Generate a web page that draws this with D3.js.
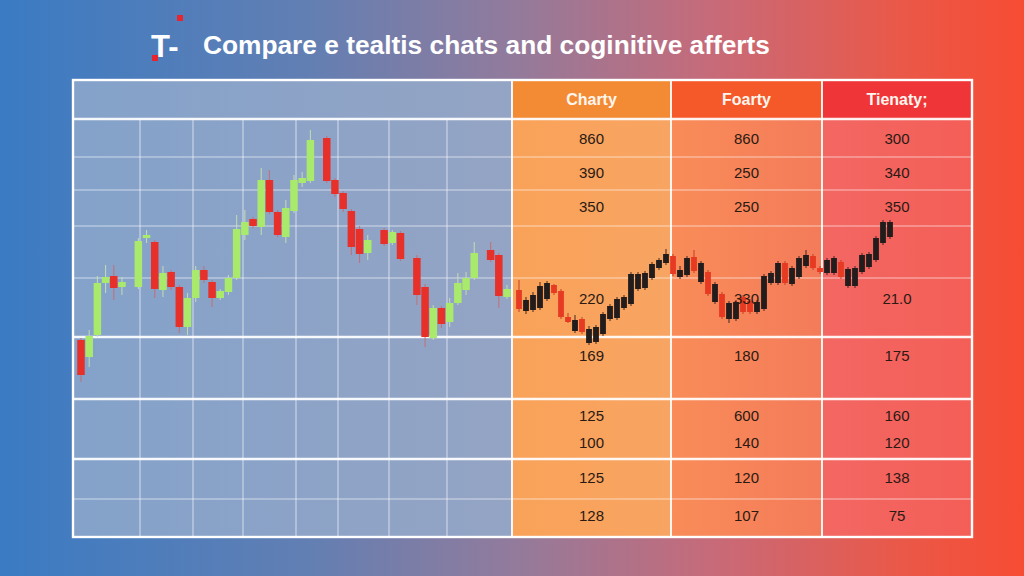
<!DOCTYPE html>
<html><head><meta charset="utf-8">
<script src="https://cdn.jsdelivr.net/npm/d3@7"></script>
<style>html,body{margin:0;padding:0;overflow:hidden;width:1024px;height:576px;background:#fff}</style>
</head><body><svg id="c" width="1024" height="576"></svg>
<script>
// ---------- DATA ----------
const titleText = "Compare e tealtis chats and coginitive afferts";
const logoText = "T-";
const columnNames = ["Charty", "Foarty", "Tienaty;"];
const chartyValues = ["860", "390", "350", "220", "169", "125", "100", "125", "128"];
const foartyValues = ["860", "250", "250", "330", "180", "600", "140", "120", "107"];
const tienatyValues = ["300", "340", "350", "21.0", "175", "160", "120", "138", "75"];

// left (green / red) series: trading day index and OHLC
const leftDay   = [0,1,2,3,4,5,7,8,9,10,11,12,13,14,15,16,17,18,19,20,21,22,23,24,25,26,27,28,30,31,32,33,34,35,37,38,39,41,42,43,44,45,46,47,48,50,51,52];
const leftOpen  = [60,43,65,117,124,113,113,162,158,110,128,113,73,102,130,118,102,108,122,165,181,173,220,188,163,189,217,219,262,220,207,189,171,147,170,157,167,142,113,62,92,78,97,110,122,150,145,103];
const leftHigh  = [62,70,124,135,135,123,162,170,160,134,130,115,107,134,134,120,111,125,185,190,183,232,230,190,200,225,228,270,264,222,209,191,174,165,172,170,169,145,116,95,94,102,127,128,158,158,147,115];
const leftLow   = [18,33,63,107,100,105,111,157,102,103,110,67,65,98,117,93,100,105,120,160,172,165,186,163,157,187,213,217,217,203,188,145,137,140,154,155,139,95,53,60,72,73,95,105,120,138,92,101];
const leftClose = [25,64,117,123,112,118,159,165,111,127,113,73,102,130,120,102,109,122,171,178,174,220,188,165,192,220,222,260,219,206,191,153,146,160,156,168,141,105,63,92,76,97,117,122,147,140,104,111];

// right (black / red) series OHLC
const rightOpen  = [110,89,90,92,101,115,109,83,69,81,57,58,66,81,82,92,96,111,112,122,132,137,144,123,125,143,118,128,98,106,81,81,103,99,88,91,117,117,137,116,123,134,144,132,127,127,138,114,114,128,133,140,157,163];
const rightHigh  = [120,103,108,118,119,116,111,87,85,83,74,75,88,96,103,105,128,128,129,138,142,151,146,134,144,150,139,130,118,108,99,100,105,101,100,126,129,139,139,134,144,150,146,134,142,144,140,133,134,147,148,164,180,180];
const rightLow   = [88,86,88,90,99,105,81,77,67,66,55,56,64,79,80,90,94,109,110,120,130,135,124,121,123,127,116,104,96,81,77,79,86,86,86,89,115,115,115,114,121,132,130,126,125,125,121,112,112,126,131,138,155,161];
const rightClose = [91,100,105,114,117,107,83,78,80,68,71,73,86,94,101,103,126,126,127,136,140,146,126,130,142,129,137,106,116,83,97,98,88,88,98,124,127,137,117,132,142,145,132,128,140,142,123,131,132,145,146,162,178,178];

// ---------- LAYOUT ----------
const W = 1024, H = 576;
const tbl = {x0: 73, x1: 972, y0: 80, y1: 537, split: 512};
const colEdges = [512, 671, 822, 972];
const headerBottom = 119;
const thinRows = [157, 190, 226, 278, 499];
const thickRows = [119, 337, 399, 459];
const leftGridX = [140, 193, 243, 296, 338, 389, 447];
const valueRowY = [140, 174, 208, 300, 357, 417, 444, 479, 517];

const svg = d3.select("#c");
const defs = svg.append("defs");

const bg = defs.append("linearGradient").attr("id", "bg").attr("x1", 0).attr("x2", 1).attr("y1", 0).attr("y2", 0);
[["0%", "#3a7bc3"], ["30%", "#627fb3"], ["50%", "#927b9c"], ["70%", "#c86a78"], ["88%", "#ea5848"], ["100%", "#f74c34"]]
  .forEach(s => bg.append("stop").attr("offset", s[0]).attr("stop-color", s[1]));
svg.append("rect").attr("width", W).attr("height", H).attr("fill", "url(#bg)");

const lp = defs.append("linearGradient").attr("id", "lp").attr("x1", 0).attr("x2", 1).attr("y1", 0).attr("y2", 0);
[["0%", "#84a2ca"], ["100%", "#94a4c4"]].forEach(s => lp.append("stop").attr("offset", s[0]).attr("stop-color", s[1]));

const colBody = [["#f9a259", "#f8a462"], ["#f98c58", "#f47b5a"], ["#f36763", "#f45e57"]];
const colHead = ["#f38b34", "#f5592a", "#ef3538"];
colBody.forEach((c, i) => {
  const g = defs.append("linearGradient").attr("id", "cb" + i).attr("x1", 0).attr("x2", 1).attr("y1", 0).attr("y2", 0);
  g.append("stop").attr("offset", "0%").attr("stop-color", c[0]);
  g.append("stop").attr("offset", "100%").attr("stop-color", c[1]);
});

// left panel
svg.append("rect").attr("x", tbl.x0).attr("y", tbl.y0).attr("width", tbl.split - tbl.x0).attr("height", tbl.y1 - tbl.y0).attr("fill", "url(#lp)");
// columns
columnNames.forEach((n, i) => {
  svg.append("rect").attr("x", colEdges[i]).attr("y", headerBottom).attr("width", colEdges[i + 1] - colEdges[i]).attr("height", tbl.y1 - headerBottom).attr("fill", `url(#cb${i})`);
  svg.append("rect").attr("x", colEdges[i]).attr("y", tbl.y0).attr("width", colEdges[i + 1] - colEdges[i]).attr("height", headerBottom - tbl.y0).attr("fill", colHead[i]);
});

// grid
const grid = svg.append("g");
leftGridX.forEach(x => grid.append("line").attr("x1", x).attr("x2", x).attr("y1", headerBottom).attr("y2", tbl.y1).attr("stroke", "#dfe6f2").attr("stroke-opacity", 0.75).attr("stroke-width", 1.2));
thinRows.forEach(y => grid.append("line").attr("x1", tbl.x0).attr("x2", tbl.x1).attr("y1", y).attr("y2", y).attr("stroke", "#ffffff").attr("stroke-opacity", 0.6).attr("stroke-width", 1.2));
thickRows.forEach(y => grid.append("line").attr("x1", tbl.x0).attr("x2", tbl.x1).attr("y1", y).attr("y2", y).attr("stroke", "#ffffff").attr("stroke-opacity", 0.92).attr("stroke-width", 2.4));
colEdges.slice(0, 3).forEach(x => grid.append("line").attr("x1", x).attr("x2", x).attr("y1", tbl.y0).attr("y2", tbl.y1).attr("stroke", "#ffffff").attr("stroke-opacity", 0.9).attr("stroke-width", 2));
grid.append("rect").attr("x", tbl.x0).attr("y", tbl.y0).attr("width", tbl.x1 - tbl.x0).attr("height", tbl.y1 - tbl.y0).attr("fill", "none").attr("stroke", "#ffffff").attr("stroke-width", 2.4);

// scales
const y = d3.scaleLinear().domain([0, 300]).range([400, 100]);
const xL = d3.scaleLinear().domain([0, 52]).range([81, 507]);
const xR = d3.scalePoint().domain(d3.range(rightOpen.length)).range([519, 890]);

const leftData = leftDay.map((d, i) => ({x: xL(d), o: leftOpen[i], h: leftHigh[i], l: leftLow[i], c: leftClose[i]}));
const rightData = rightOpen.map((o, i) => ({x: xR(i), o, h: rightHigh[i], l: rightLow[i], c: rightClose[i]}));

function drawCandles(data, w, upColor, downColor, wickUp, wickDown) {
  const g = svg.append("g");
  g.selectAll("line").data(data).join("line")
    .attr("x1", d => d.x).attr("x2", d => d.x)
    .attr("y1", d => y(d.h)).attr("y2", d => y(d.l))
    .attr("stroke", d => d.c >= d.o ? wickUp : wickDown).attr("stroke-width", 1.1).attr("stroke-opacity", 0.85);
  g.selectAll("rect").data(data).join("rect")
    .attr("x", d => d.x - w / 2).attr("width", w)
    .attr("y", d => y(Math.max(d.o, d.c)))
    .attr("height", d => Math.max(2, Math.abs(y(d.o) - y(d.c))))
    .attr("fill", d => d.c >= d.o ? upColor : downColor);
}
drawCandles(leftData, 7.5, "#a9ea6c", "#e8302a", "#c8e0b0", "#c86a70");
drawCandles(rightData, 5.8, "#221c1c", "#e63a22", "#332222", "#c03a22");

// headers
svg.append("g").selectAll("text").data(columnNames).join("text")
  .attr("x", (d, i) => (colEdges[i] + colEdges[i + 1]) / 2)
  .attr("y", (tbl.y0 + headerBottom) / 2 + 1)
  .attr("text-anchor", "middle").attr("dominant-baseline", "middle")
  .attr("font-family", "Liberation Sans, Arial, sans-serif").attr("font-weight", "bold").attr("font-size", 16)
  .attr("fill", "#fff6ee").text(d => d);

// values
[chartyValues, foartyValues, tienatyValues].forEach((vals, ci) => {
  svg.append("g").selectAll("text").data(vals).join("text")
    .attr("x", (colEdges[ci] + colEdges[ci + 1]) / 2)
    .attr("y", (d, i) => valueRowY[i])
    .attr("text-anchor", "middle").attr("dominant-baseline", "middle")
    .attr("font-family", "Liberation Sans Narrow, Liberation Sans, Arial, sans-serif").attr("font-size", 15)
    .attr("fill", "#2a1a14").text(d => d);
});

// title & logo
svg.append("text").attr("x", 203).attr("y", 54)
  .attr("font-family", "Liberation Sans, Arial, sans-serif").attr("font-weight", "bold").attr("font-size", 25)
  .attr("textLength", 567).attr("lengthAdjust", "spacingAndGlyphs")
  .attr("fill", "#ffffff").text(titleText);
svg.append("text").attr("x", 151).attr("y", 57)
  .attr("font-family", "Liberation Sans, Arial, sans-serif").attr("font-weight", "bold").attr("font-size", 31)
  .attr("fill", "#ffffff").text(logoText);
svg.append("rect").attr("x", 177).attr("y", 15).attr("width", 6).attr("height", 6).attr("fill", "#e8242c");
svg.append("rect").attr("x", 152).attr("y", 55).attr("width", 6).attr("height", 6).attr("fill", "#e8242c");
</script></body></html>
